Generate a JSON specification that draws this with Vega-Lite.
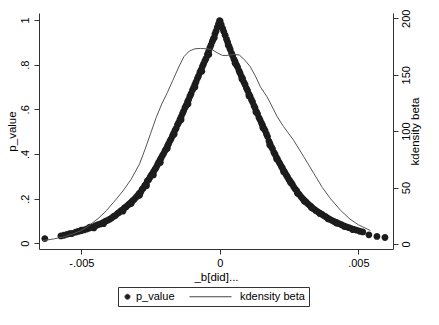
{
"$schema": "https://vega.github.io/schema/vega-lite/v6.json",
"width": 354, "height": 236,
"autosize": "none",
"padding": {"left": 39, "top": 13, "right": 46, "bottom": 76},
"background": "#ffffff",
"config": {
 "view": {"stroke": null},
 "font": "Liberation Sans",
 "axis": {"grid": false, "domainColor": "#333333", "tickColor": "#333333", "tickSize": 5, "labelColor": "#000000", "labelFontSize": 11, "titleFontSize": 11.5, "titleColor": "#000000", "titleFontWeight": "normal", "labelFont": "Liberation Sans", "titleFont": "Liberation Sans"}
},
"datasets": {
 "pv": [
{"b":-0.00632,"p":0.021,"s":"p_value"},{"b":-0.00574,"p":0.033,"s":"p_value"},{"b":-0.00563,"p":0.036,"s":"p_value"},{"b":-0.00552,"p":0.040,"s":"p_value"},{"b":-0.00543,"p":0.043,"s":"p_value"},{"b":-0.00534,"p":0.044,"s":"p_value"},{"b":-0.00521,"p":0.050,"s":"p_value"},{"b":-0.00512,"p":0.053,"s":"p_value"},{"b":-0.00502,"p":0.056,"s":"p_value"},{"b":-0.00491,"p":0.060,"s":"p_value"},{"b":-0.00480,"p":0.064,"s":"p_value"},{"b":-0.00471,"p":0.068,"s":"p_value"},{"b":-0.00462,"p":0.074,"s":"p_value"},{"b":-0.00455,"p":0.069,"s":"p_value"},{"b":-0.00449,"p":0.079,"s":"p_value"},{"b":-0.00440,"p":0.083,"s":"p_value"},{"b":-0.00431,"p":0.087,"s":"p_value"},{"b":-0.00422,"p":0.092,"s":"p_value"},{"b":-0.00413,"p":0.099,"s":"p_value"},{"b":-0.00405,"p":0.103,"s":"p_value"},{"b":-0.00398,"p":0.108,"s":"p_value"},{"b":-0.00391,"p":0.113,"s":"p_value"},{"b":-0.00384,"p":0.120,"s":"p_value"},{"b":-0.00377,"p":0.125,"s":"p_value"},{"b":-0.00370,"p":0.133,"s":"p_value"},{"b":-0.00364,"p":0.138,"s":"p_value"},{"b":-0.00357,"p":0.146,"s":"p_value"},{"b":-0.00351,"p":0.150,"s":"p_value"},{"b":-0.00345,"p":0.158,"s":"p_value"},{"b":-0.00339,"p":0.163,"s":"p_value"},{"b":-0.00333,"p":0.170,"s":"p_value"},{"b":-0.00327,"p":0.176,"s":"p_value"},{"b":-0.00321,"p":0.183,"s":"p_value"},{"b":-0.00315,"p":0.191,"s":"p_value"},{"b":-0.00309,"p":0.197,"s":"p_value"},{"b":-0.00303,"p":0.206,"s":"p_value"},{"b":-0.00297,"p":0.213,"s":"p_value"},{"b":-0.00292,"p":0.222,"s":"p_value"},{"b":-0.00286,"p":0.229,"s":"p_value"},{"b":-0.00281,"p":0.241,"s":"p_value"},{"b":-0.00276,"p":0.248,"s":"p_value"},{"b":-0.00271,"p":0.259,"s":"p_value"},{"b":-0.00266,"p":0.266,"s":"p_value"},{"b":-0.00262,"p":0.280,"s":"p_value"},{"b":-0.00257,"p":0.285,"s":"p_value"},{"b":-0.00252,"p":0.296,"s":"p_value"},{"b":-0.00248,"p":0.305,"s":"p_value"},{"b":-0.00243,"p":0.313,"s":"p_value"},{"b":-0.00239,"p":0.322,"s":"p_value"},{"b":-0.00234,"p":0.332,"s":"p_value"},{"b":-0.00230,"p":0.340,"s":"p_value"},{"b":-0.00225,"p":0.352,"s":"p_value"},{"b":-0.00221,"p":0.362,"s":"p_value"},{"b":-0.00216,"p":0.373,"s":"p_value"},{"b":-0.00212,"p":0.382,"s":"p_value"},{"b":-0.00207,"p":0.394,"s":"p_value"},{"b":-0.00203,"p":0.402,"s":"p_value"},{"b":-0.00198,"p":0.415,"s":"p_value"},{"b":-0.00194,"p":0.423,"s":"p_value"},{"b":-0.00189,"p":0.436,"s":"p_value"},{"b":-0.00185,"p":0.446,"s":"p_value"},{"b":-0.00180,"p":0.459,"s":"p_value"},{"b":-0.00176,"p":0.468,"s":"p_value"},{"b":-0.00171,"p":0.482,"s":"p_value"},{"b":-0.00167,"p":0.492,"s":"p_value"},{"b":-0.00162,"p":0.506,"s":"p_value"},{"b":-0.00158,"p":0.515,"s":"p_value"},{"b":-0.00153,"p":0.531,"s":"p_value"},{"b":-0.00149,"p":0.540,"s":"p_value"},{"b":-0.00144,"p":0.555,"s":"p_value"},{"b":-0.00140,"p":0.566,"s":"p_value"},{"b":-0.00135,"p":0.581,"s":"p_value"},{"b":-0.00131,"p":0.592,"s":"p_value"},{"b":-0.00126,"p":0.607,"s":"p_value"},{"b":-0.00122,"p":0.617,"s":"p_value"},{"b":-0.00117,"p":0.633,"s":"p_value"},{"b":-0.00113,"p":0.643,"s":"p_value"},{"b":-0.00108,"p":0.659,"s":"p_value"},{"b":-0.00104,"p":0.670,"s":"p_value"},{"b":-0.00099,"p":0.686,"s":"p_value"},{"b":-0.00095,"p":0.697,"s":"p_value"},{"b":-0.00090,"p":0.712,"s":"p_value"},{"b":-0.00086,"p":0.723,"s":"p_value"},{"b":-0.00081,"p":0.739,"s":"p_value"},{"b":-0.00077,"p":0.750,"s":"p_value"},{"b":-0.00072,"p":0.766,"s":"p_value"},{"b":-0.00068,"p":0.776,"s":"p_value"},{"b":-0.00063,"p":0.792,"s":"p_value"},{"b":-0.00059,"p":0.803,"s":"p_value"},{"b":-0.00054,"p":0.817,"s":"p_value"},{"b":-0.00050,"p":0.828,"s":"p_value"},{"b":-0.00045,"p":0.846,"s":"p_value"},{"b":-0.00041,"p":0.858,"s":"p_value"},{"b":-0.00036,"p":0.876,"s":"p_value"},{"b":-0.00032,"p":0.888,"s":"p_value"},{"b":-0.00027,"p":0.905,"s":"p_value"},{"b":-0.00023,"p":0.918,"s":"p_value"},{"b":-0.00018,"p":0.937,"s":"p_value"},{"b":-0.00014,"p":0.950,"s":"p_value"},{"b":-0.00009,"p":0.968,"s":"p_value"},{"b":-0.00005,"p":0.982,"s":"p_value"},{"b":-0.00001,"p":0.997,"s":"p_value"},
{"b":-0.00350,"p":0.144,"s":"p_value"},{"b":-0.00320,"p":0.178,"s":"p_value"},{"b":-0.00290,"p":0.215,"s":"p_value"},{"b":-0.00265,"p":0.258,"s":"p_value"},{"b":-0.00240,"p":0.306,"s":"p_value"},{"b":-0.00215,"p":0.362,"s":"p_value"},{"b":-0.00190,"p":0.425,"s":"p_value"},{"b":-0.00165,"p":0.488,"s":"p_value"},{"b":-0.00140,"p":0.553,"s":"p_value"},{"b":-0.00115,"p":0.624,"s":"p_value"},{"b":-0.00090,"p":0.700,"s":"p_value"},{"b":-0.00065,"p":0.770,"s":"p_value"},{"b":-0.00040,"p":0.845,"s":"p_value"},{"b":-0.00020,"p":0.920,"s":"p_value"},{"b":-0.00420,"p":0.088,"s":"p_value"},{"b":-0.00470,"p":0.072,"s":"p_value"},{"b":-0.00500,"p":0.059,"s":"p_value"},
{"b":0.00001,"p":0.995,"s":"p_value"},{"b":0.00005,"p":0.979,"s":"p_value"},{"b":0.00010,"p":0.962,"s":"p_value"},{"b":0.00014,"p":0.948,"s":"p_value"},{"b":0.00019,"p":0.932,"s":"p_value"},{"b":0.00024,"p":0.914,"s":"p_value"},{"b":0.00028,"p":0.901,"s":"p_value"},{"b":0.00033,"p":0.882,"s":"p_value"},{"b":0.00037,"p":0.869,"s":"p_value"},{"b":0.00042,"p":0.852,"s":"p_value"},{"b":0.00046,"p":0.840,"s":"p_value"},{"b":0.00051,"p":0.824,"s":"p_value"},{"b":0.00055,"p":0.813,"s":"p_value"},{"b":0.00060,"p":0.799,"s":"p_value"},{"b":0.00064,"p":0.789,"s":"p_value"},{"b":0.00069,"p":0.773,"s":"p_value"},{"b":0.00073,"p":0.762,"s":"p_value"},{"b":0.00078,"p":0.746,"s":"p_value"},{"b":0.00082,"p":0.737,"s":"p_value"},{"b":0.00087,"p":0.721,"s":"p_value"},{"b":0.00091,"p":0.710,"s":"p_value"},{"b":0.00096,"p":0.694,"s":"p_value"},{"b":0.00100,"p":0.684,"s":"p_value"},{"b":0.00105,"p":0.668,"s":"p_value"},{"b":0.00109,"p":0.658,"s":"p_value"},{"b":0.00114,"p":0.643,"s":"p_value"},{"b":0.00118,"p":0.633,"s":"p_value"},{"b":0.00123,"p":0.616,"s":"p_value"},{"b":0.00127,"p":0.606,"s":"p_value"},{"b":0.00132,"p":0.590,"s":"p_value"},{"b":0.00136,"p":0.580,"s":"p_value"},{"b":0.00141,"p":0.563,"s":"p_value"},{"b":0.00145,"p":0.553,"s":"p_value"},{"b":0.00150,"p":0.539,"s":"p_value"},{"b":0.00154,"p":0.529,"s":"p_value"},{"b":0.00159,"p":0.515,"s":"p_value"},{"b":0.00163,"p":0.505,"s":"p_value"},{"b":0.00168,"p":0.490,"s":"p_value"},{"b":0.00172,"p":0.478,"s":"p_value"},{"b":0.00177,"p":0.458,"s":"p_value"},{"b":0.00181,"p":0.446,"s":"p_value"},{"b":0.00186,"p":0.432,"s":"p_value"},{"b":0.00190,"p":0.423,"s":"p_value"},{"b":0.00195,"p":0.407,"s":"p_value"},{"b":0.00199,"p":0.399,"s":"p_value"},{"b":0.00204,"p":0.385,"s":"p_value"},{"b":0.00208,"p":0.377,"s":"p_value"},{"b":0.00213,"p":0.365,"s":"p_value"},{"b":0.00217,"p":0.356,"s":"p_value"},{"b":0.00222,"p":0.344,"s":"p_value"},{"b":0.00226,"p":0.336,"s":"p_value"},{"b":0.00231,"p":0.324,"s":"p_value"},{"b":0.00235,"p":0.316,"s":"p_value"},{"b":0.00240,"p":0.305,"s":"p_value"},{"b":0.00244,"p":0.297,"s":"p_value"},{"b":0.00249,"p":0.286,"s":"p_value"},{"b":0.00253,"p":0.279,"s":"p_value"},{"b":0.00258,"p":0.270,"s":"p_value"},{"b":0.00262,"p":0.263,"s":"p_value"},{"b":0.00267,"p":0.252,"s":"p_value"},{"b":0.00272,"p":0.243,"s":"p_value"},{"b":0.00277,"p":0.236,"s":"p_value"},{"b":0.00282,"p":0.225,"s":"p_value"},{"b":0.00287,"p":0.218,"s":"p_value"},{"b":0.00293,"p":0.208,"s":"p_value"},{"b":0.00299,"p":0.200,"s":"p_value"},{"b":0.00305,"p":0.192,"s":"p_value"},{"b":0.00311,"p":0.185,"s":"p_value"},{"b":0.00317,"p":0.178,"s":"p_value"},{"b":0.00323,"p":0.171,"s":"p_value"},{"b":0.00329,"p":0.165,"s":"p_value"},{"b":0.00335,"p":0.157,"s":"p_value"},{"b":0.00341,"p":0.152,"s":"p_value"},{"b":0.00347,"p":0.146,"s":"p_value"},{"b":0.00354,"p":0.141,"s":"p_value"},{"b":0.00361,"p":0.134,"s":"p_value"},{"b":0.00368,"p":0.130,"s":"p_value"},{"b":0.00375,"p":0.124,"s":"p_value"},{"b":0.00382,"p":0.119,"s":"p_value"},{"b":0.00389,"p":0.113,"s":"p_value"},{"b":0.00396,"p":0.108,"s":"p_value"},{"b":0.00404,"p":0.103,"s":"p_value"},{"b":0.00412,"p":0.098,"s":"p_value"},{"b":0.00421,"p":0.094,"s":"p_value"},{"b":0.00430,"p":0.088,"s":"p_value"},{"b":0.00439,"p":0.083,"s":"p_value"},{"b":0.00448,"p":0.078,"s":"p_value"},{"b":0.00457,"p":0.074,"s":"p_value"},{"b":0.00466,"p":0.070,"s":"p_value"},{"b":0.00475,"p":0.066,"s":"p_value"},{"b":0.00484,"p":0.062,"s":"p_value"},{"b":0.00494,"p":0.059,"s":"p_value"},{"b":0.00505,"p":0.054,"s":"p_value"},{"b":0.00516,"p":0.051,"s":"p_value"},{"b":0.00538,"p":0.038,"s":"p_value"},{"b":0.00567,"p":0.031,"s":"p_value"},{"b":0.00596,"p":0.026,"s":"p_value"},
{"b":0.00030,"p":0.888,"s":"p_value"},{"b":0.00055,"p":0.806,"s":"p_value"},{"b":0.00080,"p":0.735,"s":"p_value"},{"b":0.00105,"p":0.660,"s":"p_value"},{"b":0.00130,"p":0.588,"s":"p_value"},{"b":0.00155,"p":0.517,"s":"p_value"},{"b":0.00180,"p":0.440,"s":"p_value"},{"b":0.00205,"p":0.378,"s":"p_value"},{"b":0.00230,"p":0.320,"s":"p_value"},{"b":0.00255,"p":0.272,"s":"p_value"},{"b":0.00280,"p":0.224,"s":"p_value"},{"b":0.00305,"p":0.188,"s":"p_value"},{"b":0.00330,"p":0.160,"s":"p_value"},{"b":0.00360,"p":0.135,"s":"p_value"},{"b":0.00390,"p":0.110,"s":"p_value"},{"b":0.00420,"p":0.091,"s":"p_value"},{"b":0.00450,"p":0.075,"s":"p_value"},{"b":0.00480,"p":0.061,"s":"p_value"}
 ],
 "kd": [
{"b":-0.0064,"d":3},{"b":-0.0060,"d":4.5},{"b":-0.0056,"d":6.5},{"b":-0.0053,"d":9},{"b":-0.0050,"d":12},{"b":-0.0047,"d":16.8},{"b":-0.0044,"d":22.5},{"b":-0.0041,"d":29.5},{"b":-0.0038,"d":38},{"b":-0.0035,"d":47},{"b":-0.0032,"d":57.5},{"b":-0.0029,"d":71},{"b":-0.0027,"d":84},{"b":-0.0025,"d":98},{"b":-0.0023,"d":112},{"b":-0.0021,"d":124},{"b":-0.0019,"d":134},{"b":-0.0017,"d":145},{"b":-0.0015,"d":156},{"b":-0.0013,"d":166},{"b":-0.0011,"d":171},{"b":-0.0009,"d":173},{"b":-0.0007,"d":173.3},{"b":-0.0005,"d":173},{"b":-0.0003,"d":172.5},{"b":-0.0001,"d":169.5},{"b":0.0001,"d":167},{"b":0.0003,"d":167.2},{"b":0.0005,"d":168},{"b":0.0007,"d":167.5},{"b":0.0009,"d":163},{"b":0.0011,"d":157},{"b":0.0013,"d":148},{"b":0.00146,"d":139.4},{"b":0.0017,"d":130.5},{"b":0.00182,"d":125},{"b":0.00207,"d":112.8},{"b":0.0023,"d":104},{"b":0.00266,"d":92},{"b":0.00303,"d":77.3},{"b":0.00339,"d":62.6},{"b":0.0037,"d":50},{"b":0.0040,"d":40},{"b":0.00435,"d":30},{"b":0.0047,"d":22},{"b":0.0050,"d":17},{"b":0.00543,"d":12}
 ]
},
"layer": [
 {
  "data": {"name": "pv"},
  "mark": {"type": "point", "filled": true, "size": 64, "color": "#1c1c1c", "opacity": 1},
  "encoding": {
   "x": {"field": "b", "type": "quantitative", "scale": {"domain": [-0.00653, 0.00625], "nice": false, "zero": false},
         "axis": {"title": "_b[did]...", "values": [-0.005, 0, 0.005], "labelExpr": "replace(replace(format(datum.value, '.3~f'), '0.', '.'), '\u2212', '-')", "labelPadding": 3, "titlePadding": 3}},
   "y": {"field": "p", "type": "quantitative", "scale": {"domain": [-0.0255, 1.0313], "nice": false, "zero": false},
         "axis": {"orient": "left", "title": "p_value", "values": [0, 0.2, 0.4, 0.6, 0.8, 1], "labelExpr": "replace(format(datum.value, '.1~f'), '0.', '.')", "labelAngle": -90, "labelAlign": "center", "labelBaseline": "bottom", "labelPadding": 4, "titlePadding": 2}},
   "shape": {"field": "s", "type": "nominal",
     "scale": {"domain": ["p_value", "kdensity beta"], "range": ["M-0.85,0A0.85,0.85,0,1,0,0.85,0A0.85,0.85,0,1,0,-0.85,0Z", "M-14,0L0,0"]},
     "legend": {"title": null, "orient": "none", "legendX": 79, "legendY": 274, "direction": "horizontal", "columns": 2, "symbolSize": 36, "labelOffset": 3, "columnPadding": 12, "padding": 4, "strokeColor": "#333333", "fillColor": "#ffffff", "labelFontSize": 11, "labelFont": "Liberation Sans", "labelColor": "#000000", "symbolStrokeColor": "#444444", "symbolStrokeWidth": 1, "symbolOpacity": 1,
       "encoding": {"symbols": {"stroke": {"value": "#444444"}, "strokeWidth": {"value": 1}, "opacity": {"value": 1}}}}}
  }
 },
 {
  "data": {"name": "kd"},
  "mark": {"type": "line", "color": "#555555", "strokeWidth": 1},
  "encoding": {
   "x": {"field": "b", "type": "quantitative"},
   "y": {"field": "d", "type": "quantitative", "scale": {"domain": [-4.43, 204.7], "nice": false, "zero": false},
         "axis": {"orient": "right", "title": "kdensity beta", "values": [0, 50, 100, 150, 200], "labelAngle": -90, "labelAlign": "center", "labelBaseline": "top", "labelPadding": 2, "titleAngle": 270, "titleBaseline": "top", "titlePadding": -2}}
  }
 }
],
"resolve": {"scale": {"y": "independent"}}
}
